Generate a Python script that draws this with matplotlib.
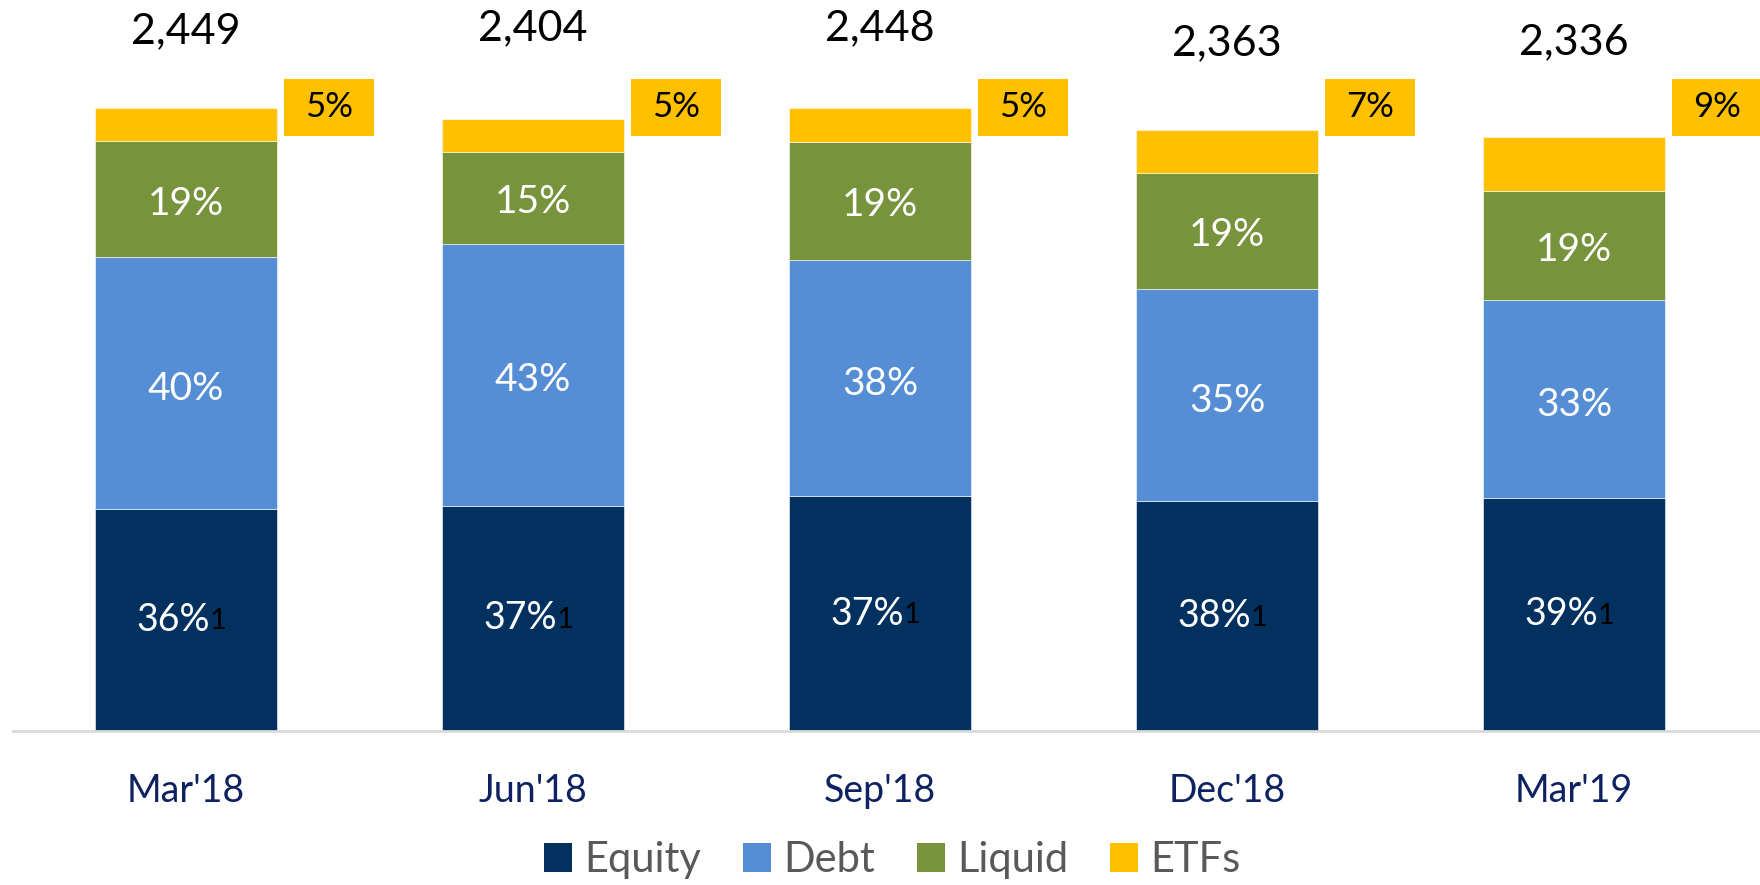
import matplotlib
matplotlib.use("Agg")
import matplotlib.pyplot as plt
from matplotlib.patches import Rectangle, Patch

plt.rcParams["font.family"] = ["Lato", "DejaVu Sans"]

# data
quarters = ["Mar'18", "Jun'18", "Sep'18", "Dec'18", "Mar'19"]
totals = [2449, 2404, 2448, 2363, 2336]

equity = [872, 885, 922, 903, 916]
debt = [990, 1030, 931, 834, 776]
liquid = [455, 360, 463, 458, 432]
etfs = [132, 129, 132, 168, 212]

equity_pct = ["36%", "37%", "37%", "38%", "39%"]
debt_pct = ["40%", "43%", "38%", "35%", "33%"]
liquid_pct = ["19%", "15%", "19%", "19%", "19%"]
etf_pct = ["5%", "5%", "5%", "7%", "9%"]

series_names = ["Equity", "Debt", "Liquid", "ETFs"]
colors = ["#03315F", "#558ED5", "#77933C", "#FFC000"]

# layout
BAR_W = 0.524
PX = 1 / 347  # one pixel in x data units
total_gap = [300, 360, 315, 340, 370]

fig = plt.figure(figsize=(17.6, 8.85), dpi=100)
ax = fig.add_axes([0.0074, 0.174, 0.9926, 0.826])

x = list(range(len(quarters)))
bottoms = [0] * len(quarters)
for vals, name, col in zip([equity, debt, liquid, etfs], series_names, colors):
    ax.bar(x, vals, BAR_W, bottom=bottoms, color=col, label=name,
           edgecolor="white", linewidth=0.4)
    bottoms = [b + v for b, v in zip(bottoms, vals)]

for i in x:
    # equity label with black footnote marker
    y_eq = equity[i] / 2
    ax.annotate(equity_pct[i], (i, y_eq), xytext=(17, 0),
                textcoords="offset points", ha="right", va="center",
                color="white", fontsize=27)
    ax.annotate("1", (i, y_eq), xytext=(17, -1),
                textcoords="offset points", ha="left", va="center",
                color="black", fontsize=21)

    ax.annotate(debt_pct[i], (i, equity[i] + debt[i] / 2), xytext=(0, -4),
                textcoords="offset points", ha="center", va="center",
                color="white", fontsize=28)
    ax.annotate(liquid_pct[i], (i, equity[i] + debt[i] + liquid[i] / 2),
                xytext=(0, -3), textcoords="offset points", ha="center",
                va="center", color="white", fontsize=28)

    ax.text(i, totals[i] + total_gap[i], f"{totals[i]:,}", ha="center",
            va="center", color="black", fontsize=31)

    # yellow ETF call-out box
    bx = i + BAR_W / 2 + 7 * PX
    box = Rectangle((bx, 2339), 90 * PX, 224, facecolor="#FFC000",
                    edgecolor="none", clip_on=False)
    ax.add_patch(box)
    ax.text(bx + 45 * PX, 2451, etf_pct[i], ha="center", va="center",
            color="black", fontsize=25, clip_on=False)

ax.set_xlim(-0.4986, 4.536)
ax.set_ylim(0, 2873)

ax.set_xticks(x)
ax.set_xticklabels(quarters, fontsize=27, color="#0E2160")
ax.tick_params(axis="x", length=0, pad=30)
ax.set_yticks([])

for side in ["top", "right", "left"]:
    ax.spines[side].set_visible(False)
ax.spines["bottom"].set_color("#D9D9D9")
ax.spines["bottom"].set_linewidth(2)

handles = [Patch(facecolor=c, edgecolor="none") for c in colors]
leg = fig.legend(handles, series_names, loc="center",
                 bbox_to_anchor=(0.507, 0.028), ncol=4, frameon=False,
                 fontsize=30, handlelength=0.67, handleheight=0.67,
                 handletextpad=0.3, columnspacing=1.0)
for t in leg.get_texts():
    t.set_color("#595959")

fig.savefig("out.png", dpi=100)
plt.close(fig)
